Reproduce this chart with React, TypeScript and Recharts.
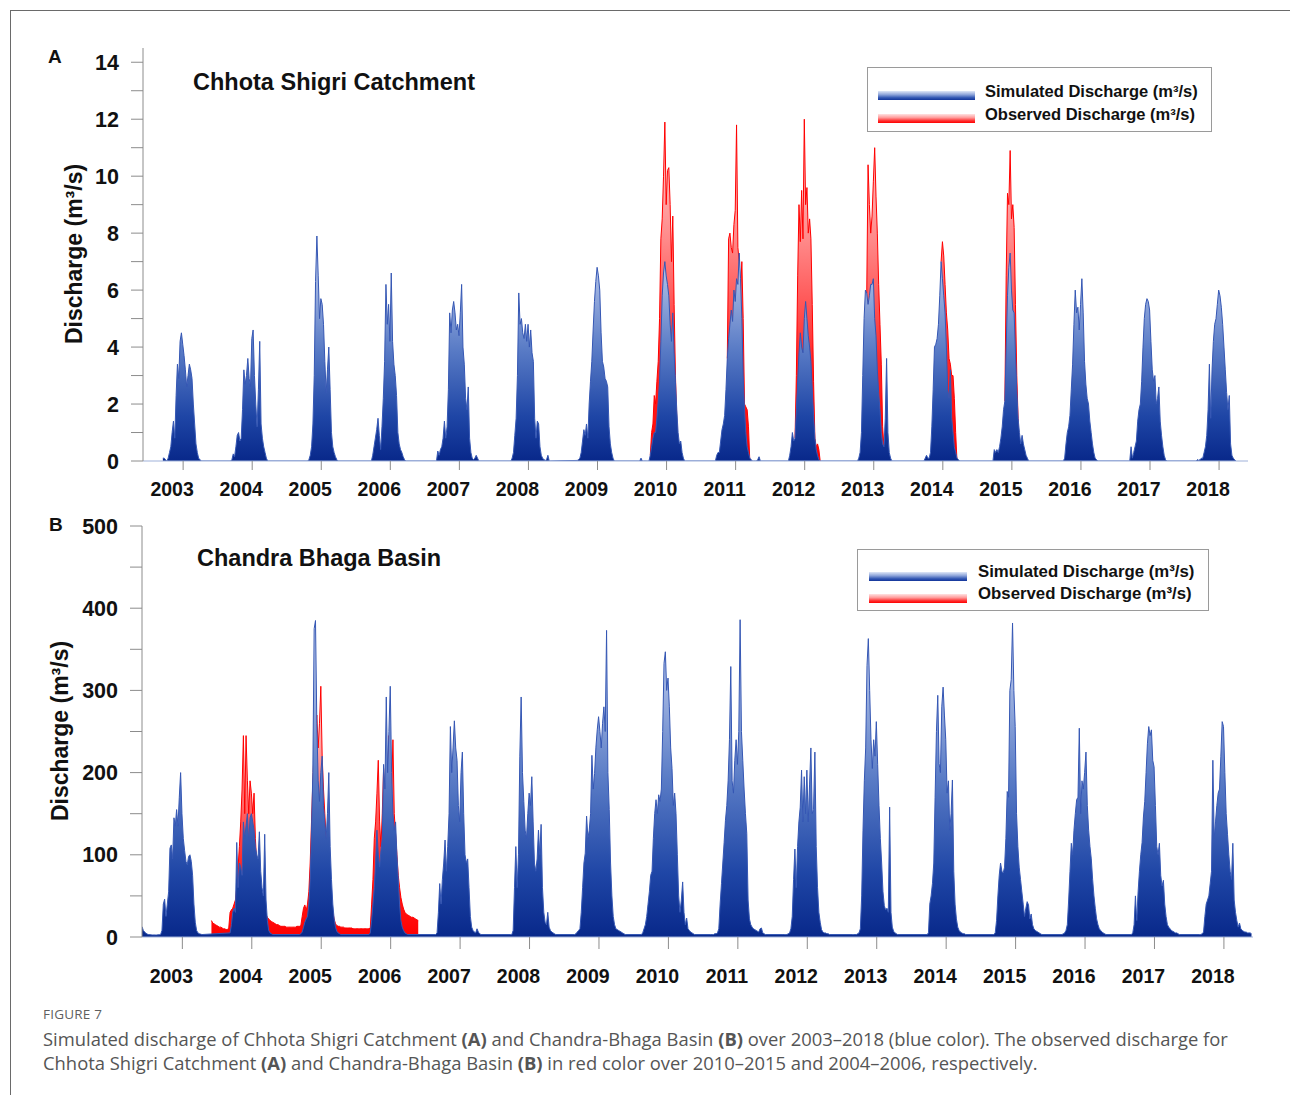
import React from 'react';
import { AreaChart, Area, XAxis, YAxis, Legend } from 'recharts';

const YEARS = [2003, 2004, 2005, 2006, 2007, 2008, 2009, 2010, 2011, 2012, 2013, 2014, 2015, 2016, 2017, 2018];
const WEEKS_PER_YEAR = 52.143;
const TICK_WEEK = 30.3; // year ticks sit at the end of July, on the melt peak

// ---- Chhota Shigri Catchment: weekly discharge (m3/s) per melt season ----
const simAStartWeek = [15, 14, 20, 16, 13, 17, 15, 10, 15, 18, 18, 16, 16, 17, 15, 13];
const simA2003 = [0.1, 0.1, 0.05, 0, 0.1, 0.3, 0.5, 1.0, 1.4, 0.8, 2.3, 3.4, 2.9, 4.2, 4.5, 4.1, 3.7, 3.2, 2.6, 3.0, 3.4, 3.2, 2.9, 2.0, 1.3, 0.6, 0.3, 0.1, 0.05, 0];
const simA2004 = [0, 0.05, 0.25, 0.15, 0.5, 0.9, 1.0, 0.7, 0.8, 1.8, 3.2, 2.7, 3.0, 3.6, 2.9, 2.6, 4.3, 4.6, 3.0, 2.0, 1.2, 2.5, 4.2, 1.3, 0.8, 0.5, 0.3, 0.1, 0];
const simA2005 = [0, 0.05, 0.2, 0.5, 1.3, 3.0, 6.3, 7.9, 6.5, 5.0, 5.7, 5.5, 4.8, 3.5, 2.4, 3.2, 4.0, 2.5, 1.0, 0.5, 0.3, 0.15, 0.05, 0];
const simA2006 = [0, 0.2, 0.5, 0.8, 1.1, 1.5, 0.9, 0.4, 1.2, 2.2, 3.5, 6.2, 4.8, 5.5, 4.2, 6.6, 4.2, 3.4, 3.0, 2.3, 1.0, 0.6, 0.4, 0.3, 0.15, 0.05, 0];
const simA2007 = [0, 0.35, 0.2, 0.4, 0.5, 0.8, 1.4, 0.8, 1.2, 2.5, 5.2, 4.5, 5.3, 5.6, 5.2, 4.6, 4.8, 4.4, 5.2, 6.2, 4.0, 3.4, 2.2, 1.8, 2.6, 0.8, 0.3, 0.1, 0.05, 0.1, 0.2, 0.1, 0];
const simA2008 = [0, 0.1, 0.3, 0.9, 1.5, 3.0, 5.9, 4.8, 5.0, 4.5, 4.3, 4.8, 4.2, 4.8, 4.0, 4.6, 3.8, 3.5, 1.5, 0.8, 1.4, 1.3, 0.5, 0.2, 0.1, 0.05, 0.02, 0.05, 0.2, 0];
const simA2009 = [0.02, 0.05, 0.1, 0.3, 0.7, 1.1, 0.9, 1.3, 0.8, 2.0, 2.8, 3.5, 4.6, 5.6, 6.3, 6.8, 6.5, 6.0, 4.5, 3.5, 3.3, 2.9, 2.8, 2.6, 1.2, 0.6, 0.3, 0.1, 0];
const simA2010 = [0, 0.1, 0, 0, 0, 0, 0, 0, 0.2, 0.5, 0.8, 1.0, 1.0, 1.5, 2.1, 2.8, 4.2, 5.8, 6.6, 7.0, 6.5, 6.2, 5.8, 4.8, 4.2, 5.2, 3.8, 2.8, 1.8, 1.0, 0.6, 0.7, 0.3, 0.1, 0];
const simA2011 = [0, 0.2, 0.3, 0.3, 0.7, 1.1, 1.3, 1.6, 2.5, 3.6, 4.3, 4.8, 5.3, 4.9, 6.0, 5.6, 6.4, 6.2, 7.3, 6.4, 5.0, 3.0, 1.8, 1.0, 0.5, 0.3, 0.1, 0.05, 0, 0, 0, 0, 0.05, 0.15, 0];
const simA2012 = [0, 0.2, 0.5, 1.0, 0.7, 0.8, 1.8, 2.8, 3.8, 4.5, 4.0, 3.8, 5.0, 5.6, 5.0, 4.4, 4.0, 3.5, 2.5, 1.6, 0.8, 0.4, 0.2, 0.05, 0];
const simA2013 = [0, 0.1, 0.3, 1.0, 3.0, 5.0, 6.0, 5.9, 5.5, 5.8, 6.2, 6.2, 6.4, 5.0, 4.4, 3.2, 2.4, 1.8, 1.0, 0.6, 0.5, 1.5, 3.6, 1.0, 0.3, 0.1, 0];
const simA2014 = [0, 0.1, 0.2, 0.1, 0.1, 0.3, 1.2, 2.5, 4.0, 4.1, 4.3, 4.8, 5.8, 7.0, 6.4, 5.8, 5.2, 4.0, 2.5, 2.2, 3.2, 1.5, 1.0, 0.5, 0.3, 0.1, 0.05, 0];
const simA2015 = [0, 0.4, 0.3, 0.4, 0.3, 0.5, 0.8, 1.2, 1.8, 2.1, 4.0, 5.8, 6.8, 7.3, 6.0, 5.3, 5.2, 3.8, 2.5, 1.5, 1.0, 0.6, 0.9, 0.6, 0.4, 0.2, 0.1, 0];
const simA2016 = [0, 0.1, 0.6, 1.0, 1.2, 1.6, 2.5, 3.4, 4.8, 6.0, 5.2, 5.4, 4.6, 5.5, 6.4, 5.2, 3.5, 2.7, 2.2, 2.0, 1.4, 1.0, 0.6, 0.3, 0.1, 0.05, 0];
const simA2017 = [0, 0.5, 0.1, 0.3, 0.5, 0.7, 1.4, 1.8, 2.0, 2.8, 4.0, 5.0, 5.5, 5.7, 5.6, 5.3, 4.2, 3.2, 2.8, 3.0, 2.0, 2.2, 2.6, 1.4, 0.9, 0.5, 0.2, 0.05, 0];
const simA2018 = [0, 0.05, 0.02, 0.05, 0.1, 0.1, 0.3, 0.5, 0.9, 1.8, 3.4, 1.5, 3.2, 4.2, 4.8, 5.0, 5.5, 6.0, 5.8, 5.4, 4.8, 4.0, 3.2, 2.4, 1.8, 2.3, 0.6, 0.2, 0.1, 0.05, 0];
const simA = [simA2003, simA2004, simA2005, simA2006, simA2007, simA2008, simA2009, simA2010, simA2011, simA2012, simA2013, simA2014, simA2015, simA2016, simA2017, simA2018];

const obsAYears = [2010, 2011, 2012, 2013, 2014, 2015];
const obsAStartWeek = [18, 24, 23, 25, 29, 25];
const obsA2010 = [0.2, 1.0, 1.3, 2.3, 2.0, 2.8, 3.5, 5.0, 7.8, 8.5, 10.0, 11.9, 9.0, 10.2, 10.3, 9.0, 7.0, 8.6, 5.5, 3.0, 1.5, 0.6, 0.2, 0];
const obsA2011 = [3.6, 7.8, 8.0, 7.5, 7.3, 8.3, 8.8, 11.8, 7.5, 7.0, 6.0, 7.0, 5.0, 2.0, 1.9, 1.8, 1.2, 0];
const obsA2012 = [0.8, 3.0, 6.5, 9.0, 7.7, 9.5, 7.8, 12.0, 9.0, 9.6, 8.0, 8.5, 7.8, 5.5, 2.8, 0.8, 0.5, 0.6, 0.4, 0];
const obsA2013 = [5.9, 10.4, 9.0, 8.0, 8.6, 9.8, 11.0, 9.3, 8.0, 6.2, 4.8, 3.4, 1.2, 0.5, 0];
const obsA2014 = [7.0, 7.7, 7.2, 6.2, 5.2, 4.6, 3.6, 3.4, 3.0, 3.0, 2.2, 1.0, 0];
const obsA2015 = [2.1, 6.5, 9.4, 9.0, 10.9, 8.5, 9.0, 8.2, 5.5, 3.0, 1.5, 0.3, 0];
const obsA = [obsA2010, obsA2011, obsA2012, obsA2013, obsA2014, obsA2015];

// ---- Chandra Bhaga Basin ----
const simBStartWeek = [0, 14, 14, 14, 12, 16, 12, 10, 10, 12, 12, 16, 14, 13, 12, 12];
const simB2003 = [12.6, 8, 6, 4.5, 3.5, 3, 2.8, 2.6, 2.5, 2.5, 2.5, 2.5, 2.6, 2.8, 3, 8, 40, 46, 25, 40, 55, 108, 112, 95, 145, 135, 155, 135, 170, 200, 150, 120, 105, 92, 88, 98, 100, 92, 75, 40, 18, 8, 5, 4, 3.5, 3];
const simB2004 = [5, 15, 30, 35, 30, 115, 60, 90, 85, 75, 140, 120, 135, 150, 115, 145, 150, 140, 130, 110, 100, 95, 128, 80, 60, 50, 125, 45, 20, 8, 5, 4, 3];
const simB2005 = [3, 4, 6, 12, 18, 22, 25, 40, 70, 130, 200, 375, 385, 260, 190, 165, 200, 220, 160, 140, 120, 150, 200, 110, 70, 40, 22, 12, 7, 5, 4, 3];
const simB2006 = [3, 5, 20, 40, 60, 90, 130, 100, 85, 105, 120, 210, 180, 292, 200, 250, 305, 200, 150, 130, 140, 100, 70, 40, 20, 12, 8, 5, 4, 3];
const simB2007 = [3, 5, 30, 65, 40, 70, 90, 118, 80, 110, 150, 256, 200, 230, 263, 230, 215, 160, 140, 200, 225, 150, 100, 90, 95, 60, 25, 12, 8, 6, 5, 10, 6, 4, 3];
const simB2008 = [3, 3, 8, 60, 110, 60, 100, 220, 292, 200, 165, 130, 120, 150, 175, 160, 195, 140, 90, 80, 95, 130, 100, 137, 60, 30, 18, 15, 30, 12, 8, 6, 5, 4, 3];
const simB2009 = [3, 4, 6, 8, 10, 30, 60, 90, 102, 147, 120, 130, 150, 221, 180, 199, 231, 252, 268, 250, 230, 260, 280, 250, 373, 200, 155, 90, 50, 25, 15, 10, 9, 8, 7, 6, 5, 4, 3];
const simB2010 = [3, 5, 10, 15, 25, 40, 55, 75, 80, 120, 150, 167, 150, 173, 165, 180, 250, 333, 347, 300, 315, 280, 230, 205, 160, 175, 150, 100, 50, 30, 45, 67, 30, 15, 23, 10, 8, 6, 5, 4, 3];
const simB2011 = [3, 3, 3, 4, 4, 5, 10, 40, 65, 90, 115, 142, 160, 190, 240, 329, 190, 175, 215, 240, 210, 250, 386, 250, 215, 180, 150, 126, 45, 22, 15, 12, 10, 9, 8, 7, 6, 10, 11, 5, 4, 3];
const simB2012 = [3, 3, 3, 3, 4, 5, 10, 25, 70, 107, 60, 110, 140, 158, 203, 140, 195, 150, 203, 140, 185, 230, 150, 155, 225, 110, 60, 30, 18, 9, 6, 5, 5, 4, 4, 3];
const simB2013 = [3, 3, 3, 3, 4, 5, 10, 50, 130, 190, 230, 330, 363, 300, 240, 205, 240, 220, 262, 210, 160, 120, 90, 55, 38, 33, 35, 30, 158, 30, 12, 7, 5, 4, 3];
const simB2014 = [3, 5, 40, 50, 65, 90, 170, 250, 294, 211, 200, 280, 304, 270, 240, 175, 190, 130, 150, 191, 80, 40, 22, 12, 8, 6, 5, 4, 4, 3];
const simB2015 = [3, 5, 20, 50, 75, 90, 80, 78, 85, 120, 177, 170, 300, 313, 382, 300, 256, 150, 110, 85, 70, 55, 40, 25, 35, 43, 39, 22, 28, 15, 10, 8, 7, 6, 5, 4, 3];
const simB2016 = [3, 4, 5, 8, 15, 45, 80, 114, 100, 130, 150, 167, 170, 254, 150, 190, 180, 200, 225, 160, 130, 110, 95, 70, 50, 35, 22, 15, 10, 8, 6, 5, 4, 3];
const simB2017 = [3, 3, 5, 15, 50, 20, 55, 80, 100, 115, 146, 165, 200, 235, 256, 245, 252, 215, 207, 160, 110, 100, 114, 75, 62, 69, 40, 25, 15, 12, 10, 8, 7, 6, 5, 5, 4, 3];
const simB2018 = [3, 3, 4, 6, 25, 40, 45, 50, 65, 80, 215, 120, 140, 160, 175, 180, 220, 262, 256, 200, 150, 125, 100, 80, 70, 114, 45, 30, 20, 12, 17, 10, 8, 7, 6, 6, 5, 5, 5, 4];
const simB = [simB2003, simB2004, simB2005, simB2006, simB2007, simB2008, simB2009, simB2010, simB2011, simB2012, simB2013, simB2014, simB2015, simB2016, simB2017, simB2018];

const obsBYears = [2004, 2005, 2006];
const obsBStartWeek = [0, 0, 0];
const obsB2004 = [20, 17, 16, 15, 14, 13, 12, 12, 11, 10, 10, 9, 9, 11, 30, 33, 35, 40, 45, 60, 85, 110, 140, 180, 245, 150, 245, 190, 150, 190, 175, 150, 175, 120, 90, 80, 65, 55, 45, 38, 32, 27, 24, 22, 20, 19, 18, 17, 16, 15, 15, 14];
const obsB2005 = [13, 13, 13, 13, 12, 12, 12, 12, 12, 12, 12, 12, 13, 13, 13, 14, 25, 35, 39, 32, 40, 55, 90, 140, 190, 230, 250, 270, 230, 260, 305, 220, 180, 150, 120, 85, 65, 50, 40, 30, 22, 16, 14, 13, 13, 12, 12, 12, 11, 11, 11, 11];
const obsB2006 = [11, 11, 10, 10, 10, 10, 10, 10, 10, 10, 10, 10, 10, 10, 10, 11, 40, 70, 120, 140, 175, 215, 140, 110, 150, 205, 150, 160, 190, 245, 200, 175, 240, 150, 125, 100, 75, 60, 48, 40, 34, 30, 28, 27, 26, 25, 24, 24, 23, 22, 21, 20];
const obsB = [obsB2004, obsB2005, obsB2006];

const yTicksA = [0, 1, 2, 3, 4, 5, 6, 7, 8, 9, 10, 11, 12, 13, 14];
const yTicksB = [0, 50, 100, 150, 200, 250, 300, 350, 400, 450, 500];

const FONT = '"Liberation Sans", Arial, Helvetica, sans-serif';
const AXIS_GREY = '#8c8c8c';
const BASELINE = '#9fb1d9';

type Row = { t: number; sim?: number; obs?: number };

function buildRows(simStart: number[], sim: number[][], obsYears: number[], obsStart: number[], obs: number[][]): Row[] {
  const rows = new Map<string, Row>();
  const put = (year: number, week: number, key: 'sim' | 'obs', v: number) => {
    const id = `${year}-${week}`;
    const row = rows.get(id) ?? { t: year + week / WEEKS_PER_YEAR };
    row[key] = v;
    rows.set(id, row);
  };
  YEARS.forEach((year, i) => sim[i].forEach((v, j) => put(year, simStart[i] + j, 'sim', v)));
  obsYears.forEach((year, i) => obs[i].forEach((v, j) => put(year, obsStart[i] + j, 'obs', v)));
  return [...rows.values()].sort((a, b) => a.t - b.t);
}

const dataA = buildRows(simAStartWeek, simA, obsAYears, obsAStartWeek, obsA);
const dataB = buildRows(simBStartWeek, simB, obsBYears, obsBStartWeek, obsB);
const xTicks = YEARS.map((y) => y + TICK_WEEK / WEEKS_PER_YEAR);

const YearTick = ({ x, y, payload, dy }: any) => (
  <text x={x - 11} y={y + dy} textAnchor="middle" fontFamily={FONT} fontWeight={700} fontSize={19.5} fill="#111">
    {Math.floor(payload.value)}
  </text>
);

const ValueTick = ({ x, y, payload, every }: any) =>
  payload.value % every === 0 ? (
    <text x={x} y={y + 7.5} textAnchor="end" fontFamily={FONT} fontWeight={700} fontSize={21.5} fill="#111">
      {payload.value}
    </text>
  ) : (
    <g />
  );

type LegendLayout = { left: number; top: number; width: number; height: number; swatchLeft: number; swatchWidth: number; swatchTops: number[]; textLeft: number; baselines: number[]; fontSize: number };

const SWATCHES = [
  { name: 'Simulated Discharge (m³/s)', bg: 'linear-gradient(to bottom, #dfe7f7 0%, #8ea5da 40%, #3257b3 75%, #12349a 100%)' },
  { name: 'Observed Discharge (m³/s)', bg: 'linear-gradient(to bottom, #ffe2e2 0%, #ff9c9c 40%, #ff3030 75%, #ff0000 100%)' },
];

const LegendBox = ({ box }: { box: LegendLayout }) => (
  <div style={{ position: 'relative', width: box.width, height: box.height, boxSizing: 'border-box', border: '1px solid #9a9a9a', background: '#fff', fontFamily: FONT, fontWeight: 700, fontSize: box.fontSize, color: '#111' }}>
    {SWATCHES.map((s, i) => (
      <React.Fragment key={s.name}>
        <div style={{ position: 'absolute', left: box.swatchLeft, top: box.swatchTops[i], width: box.swatchWidth, height: 9, background: s.bg }} />
        <div style={{ position: 'absolute', left: box.textLeft, top: box.baselines[i] - 0.85 * box.fontSize, lineHeight: 1, whiteSpace: 'nowrap' }}>{s.name}</div>
      </React.Fragment>
    ))}
  </div>
);

type PanelProps = {
  id: string;
  top: number;
  height: number;
  margin: { top: number; right: number; bottom: number; left: number };
  data: Row[];
  yMax: number;
  yTicks: number[];
  labelEvery: number;
  xTickSize: number;
  xAxisHeight: number;
  xLabelDy: number;
  legend: LegendLayout;
};

const Panel = ({ id, top, height, margin, data, yMax, yTicks, labelEvery, xTickSize, xAxisHeight, xLabelDy, legend }: PanelProps) => (
  <div style={{ position: 'absolute', left: 0, top }}>
    <AreaChart width={1290} height={height} data={data} margin={margin}>
      <defs>
        <linearGradient id={`sim-${id}`} x1="0" y1="0" x2="0" y2="1">
          <stop offset="0%" stopColor="#dbe3f5" />
          <stop offset="20%" stopColor="#a3b6e2" />
          <stop offset="50%" stopColor="#5a7cc6" />
          <stop offset="80%" stopColor="#1f46a6" />
          <stop offset="100%" stopColor="#08288a" />
        </linearGradient>
        <linearGradient id={`obs-${id}`} x1="0" y1="0" x2="0" y2="1">
          <stop offset="0%" stopColor="#ffd6d6" />
          <stop offset="35%" stopColor="#ff8a8a" />
          <stop offset="70%" stopColor="#ff2a2a" />
          <stop offset="100%" stopColor="#ff0000" />
        </linearGradient>
      </defs>
      <XAxis
        dataKey="t"
        type="number"
        domain={[2003, 2019]}
        allowDataOverflow
        ticks={xTicks}
        interval={0}
        height={xAxisHeight}
        tickSize={xTickSize}
        axisLine={{ stroke: BASELINE }}
        tickLine={{ stroke: AXIS_GREY }}
        tick={(p: any) => <YearTick {...p} dy={xLabelDy} />}
      />
      <XAxis xAxisId="frame" orientation="top" type="number" domain={[2003, 2019]} height={0} tick={false} tickLine={false} axisLine={{ stroke: AXIS_GREY }} />
      <YAxis
        type="number"
        domain={[0, yMax]}
        allowDataOverflow
        ticks={yTicks}
        interval={0}
        width={70}
        tickSize={12}
        tickMargin={12}
        axisLine={{ stroke: AXIS_GREY }}
        tickLine={{ stroke: AXIS_GREY }}
        tick={(p: any) => <ValueTick {...p} every={labelEvery} />}
      />
      <YAxis yAxisId="frame" orientation="right" type="number" domain={[0, 1]} width={0} tick={false} tickLine={false} axisLine={{ stroke: AXIS_GREY }} />
      <Legend
        layout="horizontal"
        verticalAlign="middle"
        align="center"
        wrapperStyle={{ left: legend.left, top: legend.top - top, width: legend.width, height: legend.height }}
        content={() => <LegendBox box={legend} />}
      />
      <Area type="linear" dataKey="obs" name="Observed Discharge (m³/s)" stroke="#ff0000" strokeWidth={1} fill={`url(#obs-${id})`} fillOpacity={1} isAnimationActive={false} dot={false} activeDot={false} />
      <Area type="linear" dataKey="sim" name="Simulated Discharge (m³/s)" stroke="#3557b4" strokeWidth={1} fill={`url(#sim-${id})`} fillOpacity={1} connectNulls isAnimationActive={false} dot={false} activeDot={false} />
    </AreaChart>
  </div>
);

const textStyle = { fontFamily: FONT, fontWeight: 700, fill: '#111' } as const;

export default function App() {
  return (
    <div style={{ position: 'absolute', left: 0, top: 0, width: 1290, height: 1095, background: '#fff', overflow: 'hidden' }}>
      <Panel
        id="a"
        top={0}
        height={505}
        margin={{ top: 48, right: 42, bottom: 4, left: 73 }}
        data={dataA}
        yMax={14.5}
        yTicks={yTicksA}
        labelEvery={2}
        xTickSize={9}
        xAxisHeight={40}
        xLabelDy={24}
        legend={{ left: 867, top: 67, width: 345, height: 65, swatchLeft: 10, swatchWidth: 97, swatchTops: [23, 46], textLeft: 117, baselines: [29, 52.5], fontSize: 16.5 }}
      />
      <Panel
        id="b"
        top={500}
        height={510}
        margin={{ top: 26, right: 37, bottom: 23, left: 72 }}
        data={dataB}
        yMax={500}
        yTicks={yTicksB}
        labelEvery={100}
        xTickSize={12}
        xAxisHeight={50}
        xLabelDy={32}
        legend={{ left: 857, top: 549, width: 352, height: 62, swatchLeft: 11, swatchWidth: 98, swatchTops: [22, 44], textLeft: 120, baselines: [28, 50.5], fontSize: 16.8 }}
      />
      <svg width={1290} height={1095} style={{ position: 'absolute', left: 0, top: 0, pointerEvents: 'none' }}>
        <line x1={10} y1={10.5} x2={1290} y2={10.5} stroke="#6a6a6a" />
        <line x1={10.5} y1={10} x2={10.5} y2={1095} stroke="#6a6a6a" />
        <text x={48} y={63} fontSize={19} {...textStyle}>A</text>
        <text x={193} y={90} fontSize={23.5} {...textStyle}>Chhota Shigri Catchment</text>
        <text transform="translate(82,254) rotate(-90)" textAnchor="middle" fontSize={23} {...textStyle}>Discharge (m³/s)</text>
        <text x={49} y={531} fontSize={19} {...textStyle}>B</text>
        <text x={197} y={566} fontSize={23.5} {...textStyle}>Chandra Bhaga Basin</text>
        <text transform="translate(68,731) rotate(-90)" textAnchor="middle" fontSize={23} {...textStyle}>Discharge (m³/s)</text>
      </svg>
      <div style={{ position: 'absolute', left: 43, top: 1008, fontFamily: '"Open Sans", sans-serif', fontSize: 13.5, lineHeight: 1, color: '#5f5f5f', letterSpacing: 0.2 }}>FIGURE 7</div>
      <div style={{ position: 'absolute', left: 43, top: 1027, fontFamily: '"Open Sans", sans-serif', fontSize: 18.4, lineHeight: '24px', color: '#555', whiteSpace: 'nowrap' }}>
        <div>
          Simulated discharge of Chhota Shigri Catchment <b>(A)</b> and Chandra-Bhaga Basin <b>(B)</b> over 2003–2018 (blue color). The observed discharge for
        </div>
        <div>
          Chhota Shigri Catchment <b>(A)</b> and Chandra-Bhaga Basin <b>(B)</b> in red color over 2010–2015 and 2004–2006, respectively.
        </div>
      </div>
    </div>
  );
}
